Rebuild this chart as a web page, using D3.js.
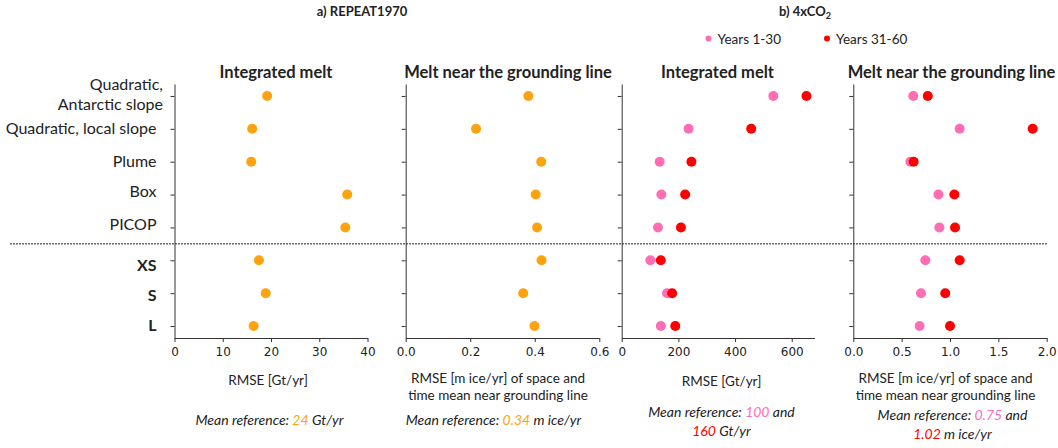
<!DOCTYPE html>
<html>
<head>
<meta charset="utf-8">
<script src="https://cdn.jsdelivr.net/npm/d3@7"></script>
<style>
  html, body { margin: 0; padding: 0; background: #fff; }
  svg { display: block; }
  .lbl { font-family: Lato, "Noto Sans", sans-serif; fill: #222; }
  .tick text { font-family: "DejaVu Sans", sans-serif; font-size: 12px; fill: #222; }
  .domain, .tick line { stroke: #333; }
</style>
</head>
<body>
<svg id="chart" width="1058" height="448"></svg>
<script>
// Parameterisations (rows, top to bottom)
const categories = ["Quadratic, Antarctic slope", "Quadratic, local slope", "Plume", "Box", "PICOP", "XS", "S", "L"];

// a) REPEAT1970 RMSE
const repeatIntegrated = [19.2, 16.1, 15.9, 35.8, 35.4, 17.5, 18.9, 16.4];        // Gt/yr
const repeatGroundingLine = [0.380, 0.218, 0.420, 0.403, 0.407, 0.421, 0.364, 0.399]; // m ice/yr

// b) 4xCO2 RMSE
const co2IntegratedYears1to30 = [535, 236, 134, 140, 128, 101, 160, 138];   // Gt/yr
const co2IntegratedYears31to60 = [652, 457, 246, 224, 209, 138, 178, 189];  // Gt/yr
const co2GroundingYears1to30 = [0.62, 1.10, 0.59, 0.88, 0.89, 0.745, 0.70, 0.686];   // m ice/yr
const co2GroundingYears31to60 = [0.77, 1.855, 0.624, 1.045, 1.052, 1.10, 0.951, 1.00]; // m ice/yr

// Axis ticks
const ticksIntegratedRepeat = [0, 10, 20, 30, 40];
const ticksGroundingRepeat = [0, 0.2, 0.4, 0.6];
const ticksIntegratedCo2 = [0, 200, 400, 600];
const ticksGroundingCo2 = [0, 0.5, 1.0, 1.5, 2.0];

const legendLabels = ["Years 1-30", "Years 31-60"];

const ORANGE = "#FFA20F";
const PINK = "#FF6EB4";
const RED = "#FF0000";

const svg = d3.select("#chart");

const y = d3.scalePoint().domain(categories).range([84, 338]).padding(0.364);

const panels = [
  { title: "Integrated melt", x0: 174.5, x1: 367.5, domain: [0, 40], ticks: ticksIntegratedRepeat, fmt: d3.format("d"),
    series: [{ values: repeatIntegrated, color: ORANGE }], titleX: 276 },
  { title: "Melt near the grounding line", x0: 405.7, x1: 599.3, domain: [0, 0.6], ticks: ticksGroundingRepeat, fmt: d3.format(".1f"),
    series: [{ values: repeatGroundingLine, color: ORANGE }], titleX: 508 },
  { title: "Integrated melt", x0: 621.7, x1: 814.4, domain: [0, 680], ticks: ticksIntegratedCo2, fmt: d3.format("d"),
    series: [{ values: co2IntegratedYears1to30, color: PINK }, { values: co2IntegratedYears31to60, color: RED }], titleX: 717.5 },
  { title: "Melt near the grounding line", x0: 853.3, x1: 1046.7, domain: [0, 2], ticks: ticksGroundingCo2, fmt: d3.format(".1f"),
    series: [{ values: co2GroundingYears1to30, color: PINK }, { values: co2GroundingYears31to60, color: RED }], titleX: 951.5 }
];

panels.forEach(p => {
  const x = d3.scaleLinear().domain(p.domain).range([p.x0, p.x1]);
  const g = svg.append("g");

  g.append("g")
    .attr("transform", `translate(0,338)`)
    .call(d3.axisBottom(x).tickValues(p.ticks).tickFormat(p.fmt).tickSize(4).tickSizeOuter(0))
    .call(s => s.selectAll("text").attr("dy", "0.95em"));

  g.append("g")
    .attr("transform", `translate(${p.x0},0)`)
    .call(d3.axisLeft(y).tickFormat("").tickSize(4).tickSizeOuter(0));

  g.append("text").attr("class", "lbl")
    .attr("x", p.titleX).attr("y", 78)
    .attr("text-anchor", "middle")
    .style("font-weight", "bold").style("font-size", "16.5px")
    .text(p.title);

  p.series.forEach(s => {
    g.append("g").selectAll("circle")
      .data(categories.map((c, i) => ({ c, v: s.values[i] })))
      .join("circle")
      .attr("cx", d => x(d.v))
      .attr("cy", d => y(d.c))
      .attr("r", 5)
      .attr("fill", s.color);
  });
});

// Row labels
const labelNudge = { "Box": -3, "PICOP": -3.5, "XS": 5, "S": 2.5, "L": -1 };
categories.forEach(c => {
  const t = svg.append("text").attr("class", "lbl")
    .attr("text-anchor", "end")
    .style("font-size", "16px");
  if (c === "Quadratic, Antarctic slope") {
    t.attr("x", 163).attr("y", y(c));
    t.append("tspan").attr("x", 163).attr("y", y(c) - 6).text("Quadratic,");
    t.append("tspan").attr("x", 163).attr("y", y(c) + 14).text("Antarctic slope");
  } else {
    const bold = ["XS", "S", "L"].includes(c);
    t.attr("x", 156.5)
      .attr("y", y(c) + (labelNudge[c] || 0))
      .attr("dy", "0.35em")
      .style("font-weight", bold ? "bold" : "normal")
      .text(c);
  }
});

// Separator between the parameterisation groups
svg.append("line")
  .attr("x1", 10).attr("x2", 1047)
  .attr("y1", (y("PICOP") + y("XS")) / 2).attr("y2", (y("PICOP") + y("XS")) / 2)
  .attr("stroke", "#222").attr("stroke-width", 1).attr("stroke-dasharray", "2,1");

// Experiment headings
svg.append("text").attr("class", "lbl")
  .attr("x", 362).attr("y", 16).attr("text-anchor", "middle")
  .style("font-weight", "bold").style("font-size", "13px")
  .text("a) REPEAT1970");
const hb = svg.append("text").attr("class", "lbl")
  .attr("x", 779).attr("y", 16)
  .style("font-weight", "bold").style("font-size", "13px");
hb.append("tspan").text("b) 4xCO");
hb.append("tspan").attr("dy", 3).style("font-size", "9px").text("2");

// Legend
const legendX = [708.5, 827];
[PINK, RED].forEach((col, i) => {
  svg.append("circle").attr("cx", legendX[i]).attr("cy", 38.5).attr("r", 3).attr("fill", col);
  svg.append("text").attr("class", "lbl")
    .attr("x", legendX[i] + 9).attr("y", 43.5)
    .style("font-size", "13.5px")
    .text(legendLabels[i]);
});

// Axis titles
function lines(x, y0, arr, lh, size, style) {
  arr.forEach((parts, i) => {
    const t = svg.append("text").attr("class", "lbl")
      .attr("x", x).attr("y", y0 + i * lh).attr("text-anchor", "middle")
      .style("font-size", size + "px");
    if (style) t.style("font-style", style);
    parts.forEach(pt => {
      const ts = t.append("tspan").text(pt[0]);
      if (pt[1]) ts.style("fill", pt[1]);
    });
  });
}
lines(268, 385, [[["RMSE [Gt/yr]"]]], 16, 13.5);
lines(498, 383, [[["RMSE [m ice/yr] of space and"]], [["time mean near grounding line"]]], 16.5, 13.5);
lines(721.5, 386, [[["RMSE [Gt/yr]"]]], 16, 13.5);
lines(945.5, 383, [[["RMSE [m ice/yr] of space and"]], [["time mean near grounding line"]]], 16.5, 13.5);

lines(269.5, 425, [[["Mean reference: "], ["24", ORANGE], [" Gt/yr"]]], 16, 14, "italic");
lines(493.5, 425, [[["Mean reference: "], ["0.34", ORANGE], [" m ice/yr"]]], 16, 14, "italic");
lines(721.5, 417, [[["Mean reference: "], ["100", PINK], [" and"]], [["160", RED], [" Gt/yr"]]], 18.5, 14, "italic");
lines(952.5, 420, [[["Mean reference: "], ["0.75", PINK], [" and"]], [["1.02", RED], [" m ice/yr"]]], 18.5, 14, "italic");
</script>
</body>
</html>
